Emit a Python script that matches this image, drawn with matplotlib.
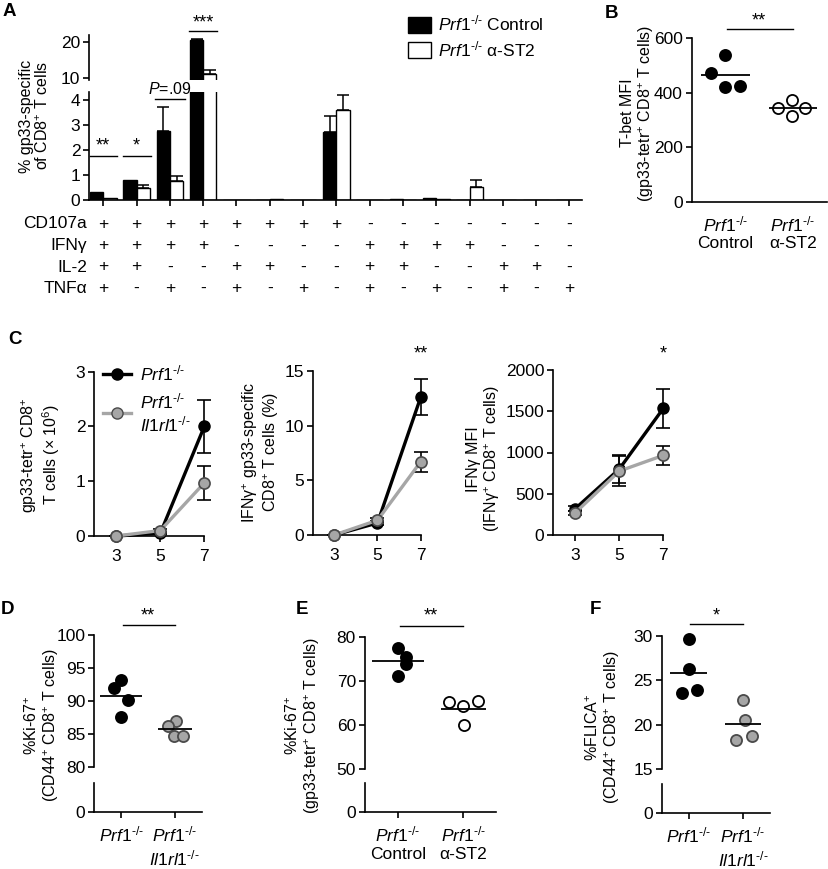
import numpy as np
import matplotlib
matplotlib.use("Agg")
import matplotlib.pyplot as plt
from matplotlib.transforms import blended_transform_factory
from matplotlib.lines import Line2D
from matplotlib.patches import Patch

# ---- data -------------------------------------------------------------
# A: cytokine combinations (15 groups)
cd107a_signs = "++++++++-------"
ifng_signs   = "++++----++++---"
il2_signs    = "++--++--++--++-"
tnfa_signs   = "+-+-+-+-+-+-+-+"
a_ctrl     = [0.30, 0.80, 2.75, 20.6, 0, 0, 0, 2.73, 0, 0.03, 0.06, 0, 0, 0, 0]
a_ctrl_err = [0.03, 0.05, 0.95, 0.30, 0, 0, 0, 0.62, 0, 0.01, 0.02, 0, 0, 0, 0]
a_st2      = [0.09, 0.46, 0.76, 11.0, 0, 0.05, 0, 3.60, 0, 0.01, 0.02, 0.50, 0, 0, 0]
a_st2_err  = [0.02, 0.12, 0.21, 1.10, 0, 0.01, 0, 0.60, 0, 0, 0.01, 0.30, 0, 0, 0]

# B: T-bet MFI
tbet_ctrl = [539, 474, 422, 426]
tbet_st2 = [345, 373, 343, 315]

# C: time course (days)
days = [3, 5, 7]
c1_ko, c1_ko_err = [0, 0.05, 2.0], [0, 0.02, 0.49]
c1_dko, c1_dko_err = [0, 0.10, 0.97], [0, 0.02, 0.31]
c2_ko, c2_ko_err = [0, 1.1, 12.6], [0, 0.2, 1.65]
c2_dko, c2_dko_err = [0, 1.35, 6.7], [0, 0.2, 0.9]
c3_ko, c3_ko_err = [320, 800, 1535], [30, 170, 235]
c3_dko, c3_dko_err = [270, 775, 965], [25, 180, 115]

# D, E, F: dot plots
ki67_ko = [93.2, 92.0, 90.2, 87.5]
ki67_dko = [87.0, 86.2, 84.7, 84.7]
ki67_ctrl = [77.4, 71.1, 75.4, 73.9]
ki67_st2 = [65.3, 64.3, 65.4, 60.0]
flica_ko = [29.7, 26.3, 23.6, 23.9]
flica_dko = [22.8, 20.6, 18.3, 18.7]

# ---- style ------------------------------------------------------------
plt.rcParams['font.family'] = ['Liberation Sans', 'DejaVu Sans']
plt.rcParams['mathtext.fontset'] = 'custom'
plt.rcParams['mathtext.rm'] = 'Liberation Sans'
plt.rcParams['mathtext.it'] = 'Liberation Sans:italic'
plt.rcParams['mathtext.bf'] = 'Liberation Sans:bold'
plt.rcParams['font.size'] = 12.5
plt.rcParams['axes.linewidth'] = 1.2
for a in ('xtick', 'ytick'):
    plt.rcParams[a + '.major.width'] = 1.2
    plt.rcParams[a + '.major.size'] = 4.5
    plt.rcParams[a + '.major.pad'] = 2

GRAY = '#a6a6a6'
GRAY_EDGE = '#4a4a4a'
KO = "$\\mathit{Prf1}^{\\mathit{\u2010/\u2010}}$"
DKO = "$\\mathit{Il1rl1}^{\\mathit{\u2010/\u2010}}$"
YL = 11.5  # rotated label size

W, H = 829, 869
fig = plt.figure(figsize=(W / 100, H / 100), dpi=100)


def add_ax(left, top, right, bottom):
    ax = fig.add_axes([left / W, 1 - bottom / H, (right - left) / W, (bottom - top) / H])
    ax.spines['top'].set_visible(False)
    ax.spines['right'].set_visible(False)
    return ax


def ftext(x, y, s, **kw):
    fig.text(x / W, 1 - y / H, s, **kw)


def ylabel(x, y, s):
    ftext(x, y, s, rotation=90, ha='center', va='center', fontsize=YL,
          multialignment='center', linespacing=1.1)


# ---- A ----------------------------------------------------------------
groups = np.arange(15)
axA = add_ax(89.3, 91.7, 581.7, 200)
axA2 = add_ax(89.3, 35, 581.7, 80)
for ax in (axA, axA2):
    ax.bar(groups - 0.2, a_ctrl, 0.4, color='black', edgecolor='black', lw=1.0)
    ax.bar(groups + 0.2, a_st2, 0.4, color='white', edgecolor='black', lw=1.0)
    for off, v, e in ((-0.2, a_ctrl, a_ctrl_err), (0.2, a_st2, a_st2_err)):
        v, e = np.array(v), np.array(e)
        m = e > 0.05
        ax.errorbar(groups[m] + off, v[m], yerr=[np.zeros(m.sum()), e[m]], fmt='none',
                    ecolor='black', elinewidth=1.1, capsize=4, capthick=1.1)
    ax.set_xlim(-0.42, 14.37)

axA.set_ylim(0, 4.33)
axA.set_yticks([0, 1, 2, 3, 4])
axA.set_xticks(groups)
axA.set_xticklabels([])
axA2.set_ylim(9.3, 21.9)
axA2.set_yticks([10, 20])
axA2.set_xticks([])
axA2.spines['bottom'].set_visible(False)

ylabel(35, 116, "% gp33-specific\nof CD8$^{+}$ T cells")

trans = blended_transform_factory(axA.transData, fig.transFigure)
rows = [("CD107a", cd107a_signs), ("IFNγ", ifng_signs), ("IL-2", il2_signs), ("TNFα", tnfa_signs)]
for (name, signs), y in zip(rows, [224, 246, 267, 288.3]):
    ftext(87, y, name, ha='right', va='center')
    for g, s in zip(groups, signs):
        axA.text(g, 1 - y / H, s, transform=trans, ha='center', va='center')

# significance in A
for g, y, lab in ((0, 1.76, "**"), (1, 1.76, "*")):
    axA.plot([g - 0.4, g + 0.42], [y, y], color='black', lw=1, clip_on=False)
    axA.text(g, y + 0.05, lab, ha='center', va='bottom', fontsize=13)
axA.plot([1.55, 2.45], [4.03, 4.03], color='black', lw=1, clip_on=False)
axA.text(2, 4.1, r"$\mathit{P}$=.09", ha='center', va='bottom', fontsize=11.5, clip_on=False)
axA2.plot([2.58, 3.42], [22.9, 22.9], color='black', lw=1, clip_on=False)
axA2.text(3, 23.0, "***", ha='center', va='bottom', fontsize=13, clip_on=False)

fig.legend([Patch(facecolor='black', edgecolor='black'), Patch(facecolor='white', edgecolor='black')],
           [KO + " Control", KO + " α-ST2"], loc='upper left',
           bbox_to_anchor=(408 / W, 1 - 14 / H), bbox_transform=fig.transFigure,
           frameon=False, handlelength=1.3, handleheight=1.0, handletextpad=0.45,
           borderpad=0, borderaxespad=0, labelspacing=0.3)


# ---- dot plot helper ----------------------------------------------------
def dots(ax, x, vals, jit, face, edge, half=0.36):
    ax.plot(np.array(jit) + x, vals, 'o', ms=8, mfc=face, mec=edge, mew=1.3,
            ls='none', zorder=3, clip_on=False)
    ax.hlines(np.mean(vals), x - half, x + half, color='black', lw=1.3, zorder=4)


def sig(ax, y, ytxt, lab):
    ax.plot([0.03, 1.0], [y, y], color='black', lw=1, clip_on=False)
    ax.text(0.5, ytxt, lab, ha='center', va='center', fontsize=13, clip_on=False)


# ---- B ----------------------------------------------------------------
axB = add_ax(691.7, 38.3, 826.7, 201.7)
dots(axB, 0, tbet_ctrl, [0.0, -0.21, 0.0, 0.21], 'black', 'black')
dots(axB, 1, tbet_st2, [-0.22, -0.02, 0.18, -0.02], 'white', 'black')
axB.set_xlim(-0.5, 1.5)
axB.set_ylim(0, 600)
axB.set_yticks([0, 200, 400, 600])
axB.set_xticks([0, 1])
axB.set_xticklabels([KO + "\nControl", KO + "\nα-ST2"], linespacing=1.2)
axB.tick_params(axis='x', length=0, pad=9)
sig(axB, 633, 665, "**")
ylabel(638, 113, "T-bet MFI\n(gp33-tetr$^{+}$ CD8$^{+}$ T cells)")


# ---- C ----------------------------------------------------------------
def course(ax, ko, ko_err, dko, dko_err):
    ax.errorbar(days, ko, yerr=ko_err, fmt='none', ecolor='black', elinewidth=1.2,
                capsize=5, capthick=1.2, zorder=2, clip_on=False)
    ax.errorbar(days, dko, yerr=dko_err, fmt='none', ecolor='black', elinewidth=1.2,
                capsize=5, capthick=1.2, zorder=2, clip_on=False)
    ax.plot(days, ko, '-o', color='black', lw=2.4, ms=8, mfc='black', mec='black',
            zorder=3, clip_on=False)
    ax.plot(days, dko, '-o', color=GRAY, lw=2.4, ms=8, mfc=GRAY, mec=GRAY_EDGE, mew=1.2,
            zorder=4, clip_on=False)
    ax.set_xlim(2, 7)
    ax.set_xticks(days)
    ax.tick_params(axis='x', pad=5)


axC1 = add_ax(94.3, 371.7, 204.3, 536)
course(axC1, c1_ko, c1_ko_err, c1_dko, c1_dko_err)
axC1.set_ylim(0, 3)
axC1.set_yticks([0, 1, 2, 3])
ylabel(41, 455, "gp33-tetr$^{+}$ CD8$^{+}$\nT cells (× 10$^{6}$)")
axC1.legend([Line2D([], [], color='black', lw=2.4, marker='o', ms=8, mfc='black'),
             Line2D([], [], color=GRAY, lw=2.4, marker='o', ms=8, mfc=GRAY, mec=GRAY_EDGE)],
            [KO, KO + "\n" + DKO], loc='upper left', bbox_to_anchor=(0.08, 1.05),
            frameon=False, handlelength=1.6, handletextpad=0.5, borderpad=0,
            borderaxespad=0, labelspacing=0.45)

axC2 = add_ax(312.7, 371, 420.7, 535)
course(axC2, c2_ko, c2_ko_err, c2_dko, c2_dko_err)
axC2.set_ylim(0, 15)
axC2.set_yticks([0, 5, 10, 15])
axC2.text(7, 16.6, "**", ha='center', va='center', fontsize=13, clip_on=False)
ylabel(261, 452, "IFNγ$^{+}$ gp33-specific\nCD8$^{+}$ T cells (%)")

axC3 = add_ax(553.3, 370, 663.3, 535)
course(axC3, c3_ko, c3_ko_err, c3_dko, c3_dko_err)
axC3.set_ylim(0, 2000)
axC3.set_yticks([0, 500, 1000, 1500, 2000])
axC3.text(7, 2190, "*", ha='center', va='center', fontsize=13, clip_on=False)
ylabel(484, 459, "IFNγ MFI\n(IFNγ$^{+}$ CD8$^{+}$ T cells)")


# ---- D, E, F (broken axes) ----------------------------------------------
def broken(left, right, top, mid, brk, bottom, ylim, yticks, xlabels):
    hi = add_ax(left, top, right, mid)
    lo = add_ax(left, brk, right, bottom)
    hi.spines['bottom'].set_visible(False)
    hi.set_xticks([])
    hi.set_ylim(*ylim)
    hi.set_yticks(yticks)
    for ax in (hi, lo):
        ax.set_xlim(-0.5, 1.5)
    lo.set_ylim(0, 1)
    lo.set_yticks([0])
    lo.set_xticks([0, 1])
    lo.set_xticklabels(xlabels, linespacing=1.2)
    lo.tick_params(axis='x', pad=5)
    return hi, lo


dD, _ = broken(94.3, 201.7, 635, 766.7, 782.7, 811.7, (80, 100), [80, 85, 90, 95, 100],
               [KO, KO + "\n" + DKO])
dots(dD, 0, ki67_ko, [0.0, -0.14, 0.13, 0.0], 'black', 'black', 0.39)
dots(dD, 1, ki67_dko, [0.03, -0.12, -0.02, 0.15], GRAY, GRAY_EDGE, 0.32)
sig(dD, 101.5, 102.9, "**")
ylabel(42, 725, "%Ki-67$^{+}$\n(CD44$^{+}$ CD8$^{+}$ T cells)")

dE, _ = broken(365, 496, 636.7, 769.3, 782.7, 811.7, (50, 80), [50, 60, 70, 80],
               [KO + "\nControl", KO + "\nα-ST2"])
dots(dE, 0, ki67_ctrl, [0.0, 0.0, 0.12, 0.12], 'black', 'black', 0.4)
dots(dE, 1, ki67_st2, [-0.21, 0.0, 0.23, 0.01], 'white', 'black', 0.34)
sig(dE, 82.4, 84.6, "**")
ylabel(303, 725, "%Ki-67$^{+}$\n(gp33-tetr$^{+}$ CD8$^{+}$ T cells)")

dF, _ = broken(661.7, 770, 636, 769.3, 784.3, 812.7, (15, 30), [15, 20, 25, 30],
               [KO, KO + "\n" + DKO])
dots(dF, 0, flica_ko, [0.0, 0.0, -0.13, 0.15], 'black', 'black', 0.34)
dots(dF, 1, flica_dko, [0.0, 0.03, -0.13, 0.16], GRAY, GRAY_EDGE, 0.34)
sig(dF, 31.3, 32.2, "*")
ylabel(603, 727, "%FLICA$^{+}$\n(CD44$^{+}$ CD8$^{+}$ T cells)")

# ---- panel letters ------------------------------------------------------
for lab, x, y in (("A", 9, 12), ("B", 612, 13), ("C", 15, 340),
                  ("D", 8, 610), ("E", 302, 610), ("F", 595, 610)):
    ftext(x, y, lab, fontsize=13.5, fontweight='bold', ha='center', va='center')

fig.savefig("out.png", dpi=100)
